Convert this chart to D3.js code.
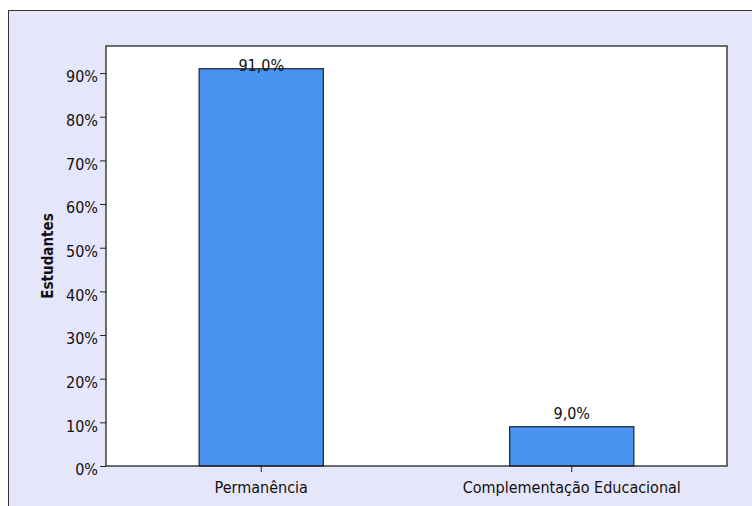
<!DOCTYPE html>
<html><head><meta charset="utf-8">
<script src="https://cdn.jsdelivr.net/npm/d3@7"></script>
<style>body{margin:0;background:#fff;}svg{display:block;font-family:"DejaVu Sans Condensed","DejaVu Sans",sans-serif;}</style>
</head><body>
<svg id="c" width="752" height="506"></svg>
<script>
const categories = ["Permanência", "Complementação Educacional"];
const values = [91.0, 9.0];
const valueLabels = ["91,0%", "9,0%"];
const yTicks = [0, 10, 20, 30, 40, 50, 60, 70, 80, 90];
const yTitle = "Estudantes";

const FONT = '"DejaVu Sans Condensed","DejaVu Sans",sans-serif';
const FS = 16;
const svg = d3.select("#c");
const W = 752, H = 506;
const m = {left:106, top:46, right:727, bottom:466};

svg.append("rect").attr("x",8.5).attr("y",10.5).attr("width",W).attr("height",H)
  .attr("fill","#e6e6fa").attr("stroke","#333").attr("stroke-width",1);

const x = d3.scaleBand().domain(categories).range([m.left, m.right]).padding(0);
const y = d3.scaleLinear().domain([0, 96.2]).range([m.bottom, m.top]);

svg.append("rect").attr("x",m.left).attr("y",m.top).attr("width",m.right-m.left).attr("height",m.bottom-m.top)
  .attr("fill","#fff");

const bw = x.bandwidth()*0.4;
svg.selectAll("rect.bar").data(categories).enter().append("rect").attr("class","bar")
  .attr("x",d=>x(d)+x.bandwidth()/2-bw/2)
  .attr("y",(d,i)=>y(values[i]))
  .attr("width",bw)
  .attr("height",(d,i)=>y(0)-y(values[i]))
  .attr("fill","#4b93f1").attr("stroke","#1c2233").attr("stroke-width",1.2);

svg.selectAll("text.vl").data(categories).enter().append("text").attr("class","vl")
  .attr("x",d=>x(d)+x.bandwidth()/2)
  .attr("y",(d,i)=>Math.max(y(values[i])-8, m.top+25))
  .attr("text-anchor","middle").attr("font-size",FS).attr("fill","#111").attr("font-family",FONT)
  .text((d,i)=>valueLabels[i]);

svg.append("rect").attr("x",m.left).attr("y",m.top).attr("width",m.right-m.left).attr("height",m.bottom-m.top)
  .attr("fill","none").attr("stroke","#222").attr("stroke-width",1.3);

const ya = svg.append("g").attr("transform",`translate(${m.left},0)`)
  .call(d3.axisLeft(y).tickValues(yTicks).tickFormat(d=>d+"%").tickSize(6).tickPadding(2));
ya.select(".domain").remove();
ya.selectAll("line").attr("stroke","#222");
ya.selectAll("text").attr("font-size",FS).attr("fill","#111").attr("font-family",FONT).attr("dy","0.55em");

const xa = svg.append("g").attr("transform",`translate(0,${m.bottom})`)
  .call(d3.axisBottom(x).tickSize(6).tickPadding(10));
xa.select(".domain").remove();
xa.selectAll("line").attr("stroke","#222");
xa.selectAll("text").attr("font-size",FS).attr("fill","#111").attr("font-family",FONT);

svg.append("text").attr("transform",`translate(53,${(m.top+m.bottom)/2}) rotate(-90)`)
  .attr("text-anchor","middle").attr("font-weight","bold").attr("font-size",15).attr("fill","#111")
  .attr("font-family",FONT)
  .text(yTitle);
</script>
</body></html>
